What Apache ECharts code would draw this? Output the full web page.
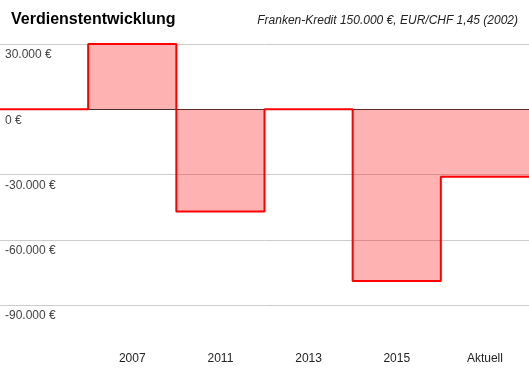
<!DOCTYPE html>
<html>
<head>
<meta charset="utf-8">
<script src="https://cdn.jsdelivr.net/npm/echarts@6/dist/echarts.min.js"></script>
<style>
html,body{margin:0;padding:0;background:#fff;}
#c{width:529px;height:371px;}
</style>
</head>
<body>
<div id="c"></div>
<script>
const categories = ['', '2007', '2011', '2013', '2015', 'Aktuell'];
const values = [0, 30000, -47000, 0, -79000, -31000];
const yTicks = [-90000, -60000, -30000, 0, 30000];

function fmt(v) {
  const s = Math.abs(v).toString().replace(/\B(?=(\d{3})+(?!\d))/g, '.');
  return (v < 0 ? '-' : '') + s + ' €';
}

// step edges: each category spans [i, i+1]; last value held to the right edge
const stepData = values.map((v, i) => [i, v]).concat([[values.length, values[values.length - 1]]]);

const chart = echarts.init(document.getElementById('c'), null, {renderer: 'canvas'});
chart.setOption({
  animation: false,
  backgroundColor: '#fff',
  title: [{
    text: 'Verdienstentwicklung',
    left: 6, top: 7,
    textStyle: {fontFamily: 'Liberation Sans, Arial, sans-serif', fontSize: 16, fontWeight: 'bold', color: '#000'}
  }, {
    text: 'Franken-Kredit 150.000 €, EUR/CHF 1,45 (2002)',
    right: 6, top: 10,
    textStyle: {fontFamily: 'Liberation Sans, Arial, sans-serif', fontSize: 12, fontStyle: 'italic', fontWeight: 'normal', color: '#222'}
  }],
  grid: {left: 0, right: 0, top: 44, bottom: 66, containLabel: false},
  xAxis: [{
    type: 'category',
    data: categories,
    boundaryGap: true,
    axisLine: {show: false, onZero: false},
    axisTick: {show: false},
    splitLine: {show: false},
    axisLabel: {margin: 48, fontFamily: 'Liberation Sans, Arial, sans-serif', fontSize: 12, color: '#222'}
  }, {
    type: 'value',
    min: 0, max: categories.length,
    show: true,
    position: 'bottom',
    axisLine: {show: true, onZero: true, lineStyle: {color: '#333', width: 1}},
    axisTick: {show: false},
    axisLabel: {show: false},
    splitLine: {show: false}
  }],
  yAxis: {
    type: 'value',
    min: yTicks[0], max: yTicks[yTicks.length - 1], interval: 30000,
    axisLine: {show: false},
    axisTick: {show: false},
    splitLine: {show: true, lineStyle: {color: '#ccc', width: 1}},
    axisLabel: {
      inside: true, margin: 5, verticalAlign: 'top', padding: [5, 0, 0, 0],
      fontFamily: 'Liberation Sans, Arial, sans-serif', fontSize: 12, color: '#444',
      formatter: fmt
    }
  },
  series: [{
    type: 'line',
    xAxisIndex: 1,
    data: stepData,
    step: 'end',
    symbol: 'none',
    lineStyle: {color: '#ff0000', width: 2},
    areaStyle: {color: '#ff0000', opacity: 0.3, origin: 0},
    z: 3
  }]
});
</script>
</body>
</html>
